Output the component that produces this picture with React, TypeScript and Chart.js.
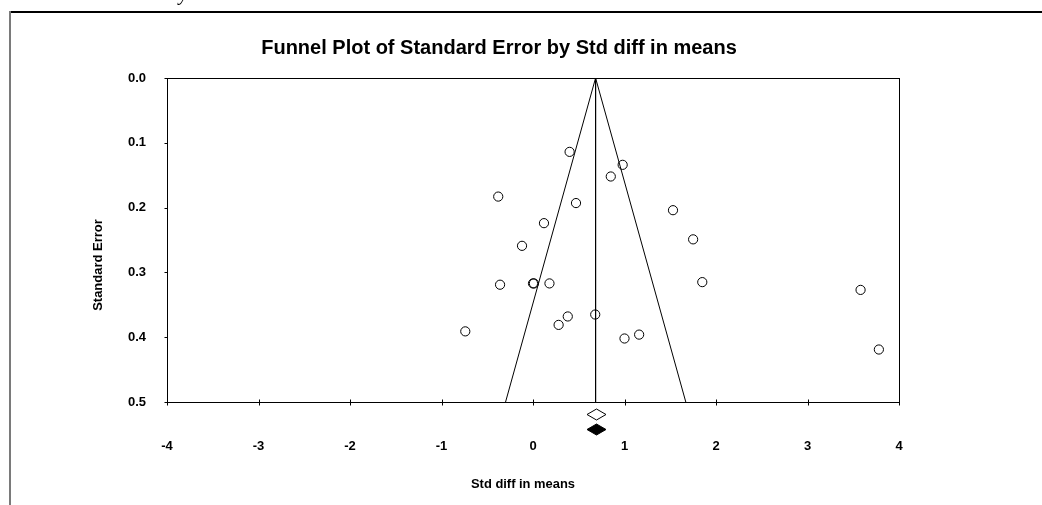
import React, { useEffect, useRef } from "react";
import { Chart, registerables } from "chart.js";

Chart.register(...registerables);

// ---- Data ----
const chartTitle = "Funnel Plot of Standard Error by Std diff in means";
const xAxisTitle = "Std diff in means";
const yAxisTitle = "Standard Error";
const xTickValues = [-4, -3, -2, -1, 0, 1, 2, 3, 4];
const yTickValues = [0.0, 0.1, 0.2, 0.3, 0.4, 0.5];

const studyDiff = [0.40, 0.98, 0.85, -0.38, 0.47, 1.53, 0.12, 1.75, -0.12, -0.36, 0.0, 0.01, 0.18, 1.85, 0.68, 0.38, 0.28, -0.74, 1.16, 1.0, 3.58, 3.78];
const studySE = [0.114, 0.134, 0.152, 0.183, 0.193, 0.204, 0.224, 0.249, 0.259, 0.319, 0.317, 0.317, 0.317, 0.315, 0.365, 0.368, 0.381, 0.391, 0.396, 0.402, 0.327, 0.419];

const funnelX = [-0.30, 0.684, 1.67];
const funnelSE = [0.5, 0.0, 0.5];
const centerX = [0.684, 0.684];
const centerSE = [0.0, 0.5];
const diamondX = [0.684, 0.684];
const diamondY = [0.518, 0.542];
const diamondFilled = [false, true];

const FONT = "'Liberation Sans', Arial, Helvetica, sans-serif";

const decorPlugin = {
  id: "decor",
  afterDraw(chart: any) {
    const ctx = chart.ctx as CanvasRenderingContext2D;
    const area = chart.chartArea;
    const xs = chart.scales.x;
    const ys = chart.scales.y;
    ctx.save();
    // outer frame
    ctx.strokeStyle = "#000";
    ctx.lineWidth = 2;
    ctx.beginPath();
    ctx.moveTo(9, 12);
    ctx.lineTo(1042, 12);
    ctx.stroke();
    ctx.strokeStyle = "#7a7a7a";
    ctx.beginPath();
    ctx.moveTo(10, 11);
    ctx.lineTo(10, 505);
    ctx.stroke();

    // cut-off caption glyph above frame
    ctx.fillStyle = "#000";
    ctx.font = "italic 20px 'Liberation Serif', 'Times New Roman', serif";
    ctx.textAlign = "left";
    ctx.textBaseline = "alphabetic";
    ctx.fillText("y", 179, 0);

    // plot box
    ctx.strokeStyle = "#000";
    ctx.lineWidth = 1;
    const l = Math.round(area.left) + 0.5;
    const r = Math.round(area.right) + 0.5;
    const t = Math.round(area.top) + 0.5;
    const b = Math.round(area.bottom) + 0.5;
    ctx.strokeRect(l, t, r - l, b - t);

    // x ticks (both sides)
    ctx.beginPath();
    for (const v of xTickValues) {
      const px = Math.round(xs.getPixelForValue(v)) + 0.5;
      ctx.moveTo(px, b - 3);
      ctx.lineTo(px, b + 3);
    }
    // y ticks (outward)
    for (const v of yTickValues) {
      const py = Math.round(ys.getPixelForValue(v)) + 0.5;
      ctx.moveTo(l - 3, py);
      ctx.lineTo(l, py);
    }
    ctx.stroke();

    // summary diamonds below the axis
    diamondX.forEach((dx, i) => {
      const cx = Math.round(xs.getPixelForValue(dx)) + 0.5;
      const cy = Math.round(ys.getPixelForValue(diamondY[i])) + 0.5;
      ctx.beginPath();
      ctx.moveTo(cx - 9.5, cy);
      ctx.lineTo(cx, cy - 5.5);
      ctx.lineTo(cx + 9.5, cy);
      ctx.lineTo(cx, cy + 5.5);
      ctx.closePath();
      ctx.fillStyle = diamondFilled[i] ? "#000" : "#fff";
      ctx.fill();
      ctx.strokeStyle = "#000";
      ctx.lineWidth = 1;
      ctx.stroke();
    });

    // title
    ctx.fillStyle = "#000";
    ctx.font = `bold 20px ${FONT}`;
    ctx.textAlign = "center";
    ctx.textBaseline = "middle";
    ctx.fillText(chartTitle, 499, 48, 476);

    // axis titles
    ctx.font = `bold 13px ${FONT}`;
    ctx.fillText(xAxisTitle, 523, 484, 104);
    ctx.save();
    ctx.translate(98, 265);
    ctx.rotate(-Math.PI / 2);
    ctx.fillText(yAxisTitle, 0, 0, 100);
    ctx.restore();

    ctx.restore();
  },
};

export default function App() {
  const ref = useRef<HTMLCanvasElement | null>(null);

  useEffect(() => {
    if (!ref.current) return;
    const points = studyDiff.map((x, i) => ({ x, y: studySE[i] }));
    const chart = new Chart(ref.current, {
      type: "scatter",
      data: {
        datasets: [
          {
            label: "Funnel",
            type: "line",
            data: funnelX.map((x, i) => ({ x, y: funnelSE[i] })),
            borderColor: "#000",
            borderWidth: 1,
            pointRadius: 0,
            fill: false,
            tension: 0,
          } as any,
          {
            label: "Center",
            type: "line",
            data: centerX.map((x, i) => ({ x, y: centerSE[i] })),
            borderColor: "#000",
            borderWidth: 1,
            pointRadius: 0,
            fill: false,
          } as any,
          {
            label: "Studies",
            data: points,
            pointStyle: "circle",
            pointRadius: 4.6,
            pointBorderWidth: 1,
            pointBorderColor: "#000",
            pointBackgroundColor: "rgba(0,0,0,0)",
          },
        ],
      },
      options: {
        animation: false,
        responsive: false,
        events: [],
        layout: { padding: { top: 78, right: 143, bottom: 0, left: 0 } },
        plugins: {
          legend: { display: false },
          tooltip: { enabled: false },
          title: { display: false },
        },
        scales: {
          x: {
            type: "linear",
            min: -4,
            max: 4,
            border: { display: false },
            grid: { display: false, drawTicks: false },
            afterBuildTicks: (s: any) => {
              s.ticks = xTickValues.map((v) => ({ value: v }));
            },
            afterFit: (s: any) => {
              s.height = 103;
            },
            ticks: {
              color: "#000",
              font: { family: FONT, size: 13, weight: "bold" },
              padding: 37,
              maxRotation: 0,
              callback: (v: any) => String(v),
            },
          },
          y: {
            type: "linear",
            reverse: true,
            min: 0,
            max: 0.5,
            border: { display: false },
            grid: { display: false, drawTicks: false },
            afterBuildTicks: (s: any) => {
              s.ticks = yTickValues.map((v) => ({ value: v }));
            },
            afterFit: (s: any) => {
              s.width = 167;
            },
            ticks: {
              color: "#000",
              font: { family: FONT, size: 13, weight: "bold" },
              padding: 21,
              callback: (v: any) => Number(v).toFixed(1),
            },
          },
        },
      },
      plugins: [decorPlugin],
    });
    return () => chart.destroy();
  }, []);

  return (
    <div style={{ position: "absolute", left: 0, top: 0, width: 1042, height: 505, background: "#fff" }}>
      <canvas ref={ref} width={1042} height={505} />
    </div>
  );
}
